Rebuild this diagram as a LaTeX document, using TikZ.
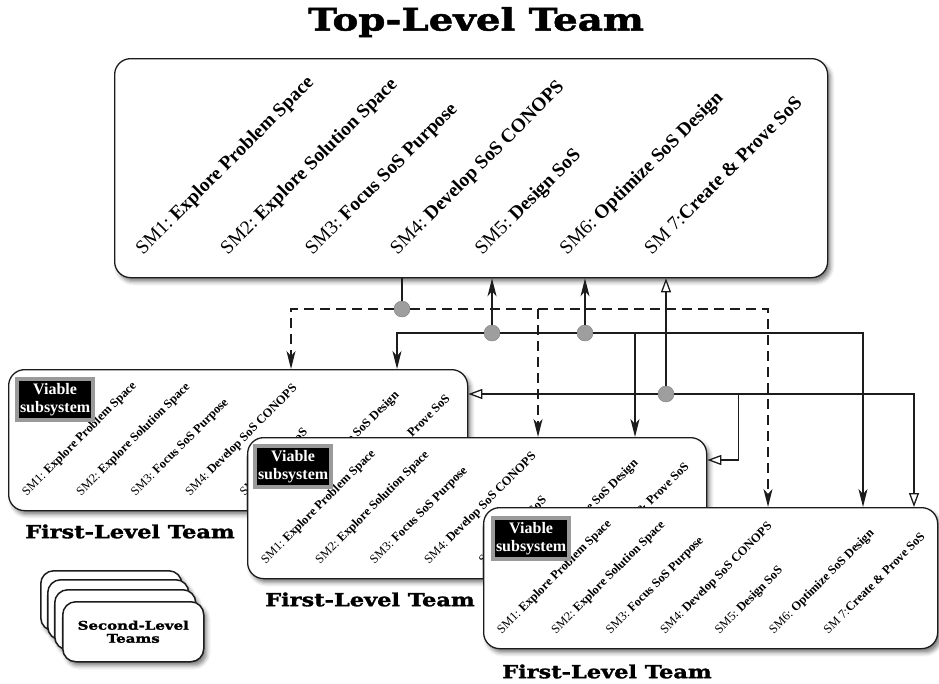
\documentclass[tikz,border=0pt]{standalone}
\usepackage{fontspec}
\setmainfont{Liberation Serif}
\newfontfamily\slabfont{DejaVu Serif}[FakeStretch=1.25, BoldFeatures={FakeBold=1.6}]
\usepackage{tikz}
\usetikzlibrary{arrows.meta, positioning, calc, shadows.blur}
\definecolor{Ink}{HTML}{1C1C1C}
\definecolor{DotGray}{HTML}{9E9E9E}
\definecolor{FrameGray}{HTML}{9A9A9A}

% the seven SM labels of one team box: box name, font size, scale
\newcommand{\smrow}[3]{%
  \foreach \pre/\body [count=\i from 0] in {SM1:\ /Explore Problem Space, SM2:\ /Explore Solution Space,
      SM3:\ /Focus SoS Purpose, SM4:\ /Develop SoS CONOPS, SM5:\ /Design SoS,
      SM6:\ /Optimize SoS Design, SM 7:/Create \& Prove SoS}
    \node[smtext, font=\fontsize{#2}{#2}\selectfont] (#1-sm\i)
      at ($(#1.south west)+({(29+84.8*\i)*#3},{-23*#3})$) {\pre\textbf{\body}};%
}

\begin{document}
\begin{tikzpicture}[x=1pt, y=-1pt,
          teambox/.style={draw=Ink, fill=white, line width=1.3pt, rounded corners=16pt,
                          anchor=north west, minimum height=141pt, minimum width=459pt,
                          blur shadow={shadow xshift=3pt, shadow yshift=-4pt,
                                       shadow blur radius=4pt, shadow opacity=50}},
          stackbox/.style={teambox, rounded corners=13pt, line width=1.5pt,
                           minimum width=141pt, minimum height=60pt, align=center,
                           font=\slabfont\bfseries\fontsize{12}{13}\selectfont},
          smtext/.style={rotate=45, anchor=base west, inner sep=0pt, text=black},
          viable/.style={fill=black, draw=FrameGray, line width=4pt, text=white, align=center,
                         inner xsep=3pt, inner ysep=4pt, anchor=north west,
                         font=\bfseries\fontsize{16}{18}\selectfont},
          title/.style={inner sep=0pt, font=\slabfont\bfseries\fontsize{31}{31}\selectfont},
          teamlbl/.style={inner sep=0pt, font=\slabfont\bfseries\fontsize{18}{18}\selectfont},
          jdot/.style={circle, fill=DotGray, draw=DotGray!80!black, line width=0.4pt,
                       inner sep=0pt, minimum size=16pt},
          link/.style={draw=Ink, line width=1.3pt},
          arr/.style={link, -{Stealth[length=18pt, width=9pt, inset=5pt]}},
          dashlink/.style={arr, line width=1.4pt, dash pattern=on 10pt off 6pt},
          warr/.style={link, -{Triangle[length=14pt, width=10pt, fill=white]}}
        ]
  \useasboundingbox (0,0) rectangle (939,683);

  \node[title] (ttl) at (476,22) {Top-Level Team};

  % top-level team
  \node[teambox, minimum width=713pt, minimum height=219pt] (top) at (114,58) {};
  \smrow{top}{19.4pt}{1}

  % first-level teams, back to front
  \node[teambox] (fltA) at (8,369) {};
  \smrow{fltA}{12.45pt}{0.642}
  \node[viable] (fltA-vs) at ([xshift=7pt, yshift=-8pt]fltA.north west) {Viable\\subsystem};
  \node[teamlbl, below right=13pt and 17pt of fltA.south west] (fltA-name) {First-Level Team};

  \node[teambox] (fltB) at (247,437) {};
  \smrow{fltB}{12.45pt}{0.642}
  \node[viable] (fltB-vs) at ([xshift=6pt, yshift=-7pt]fltB.north west) {Viable\\subsystem};
  \node[teamlbl, below right=13pt and 18pt of fltB.south west] (fltB-name) {First-Level Team};

  \node[teambox, minimum width=454pt] (fltC) at (483,507) {};
  \smrow{fltC}{12.45pt}{0.642}
  \node[viable] (fltC-vs) at ([xshift=8pt, yshift=-9pt]fltC.north west) {Viable\\subsystem};
  \node[teamlbl, below right=15pt and 19pt of fltC.south west] (fltC-name) {First-Level Team};

  % second-level teams
  \node[stackbox] (slA) at (40,570) {};
  \node[stackbox] (slB) at (47,579) {};
  \node[stackbox] (slC) at (54,589) {};
  \node[stackbox] (slD) at (62,601) {Second-Level\\Teams};

  % junctions
  \node[jdot] (j1) at (402,309) {};
  \node[jdot] (j2) at (492,333) {};
  \node[jdot] (j3) at (585,333) {};
  \node[jdot] (j4) at (666,394) {};

  \coordinate (aDash) at ([xshift=283pt]fltA.north west);
  \coordinate (bDash) at ([xshift=291pt]fltB.north west);
  \coordinate (cDash) at ([xshift=285pt]fltC.north west);
  \coordinate (aLink) at ([xshift=389pt]fltA.north west);
  \coordinate (bLink) at ([xshift=388pt]fltB.north west);
  \coordinate (cLink) at ([xshift=380pt]fltC.north west);
  \coordinate (bTurn) at ([xshift=31pt]fltB.north east);
  \coordinate (bFeed) at ([yshift=-23pt]fltB.north east);
  \coordinate (cFeed) at ([xshift=431pt]fltC.north west);

  % dashed lines
  \draw[link] (top.south -| j1) -- (j1);
  \draw[dashlink] (j1) -| (aDash);
  \draw[dashlink] (j1) -| (cDash);
  \draw[dashlink] (j1 -| bDash) -- (bDash);

  % solid lines
  \draw[arr] (j2) -- (top.south -| j2);
  \draw[arr] (j3) -- (top.south -| j3);
  \draw[arr] (j2) -| (aLink);
  \draw[link] (j2) -- (j3);
  \draw[arr] (j3) -| (cLink);
  \draw[arr] (j3 -| bLink) -- (bLink);

  % open-head lines
  \draw[warr] (j4) -- (top.south -| j4);
  \draw[warr] (j4) -- (fltA.east |- j4);
  \draw[warr] (j4) -| (cFeed);
  \draw[warr] (j4 -| bTurn) |- (bFeed);
\end{tikzpicture}
\end{document}
